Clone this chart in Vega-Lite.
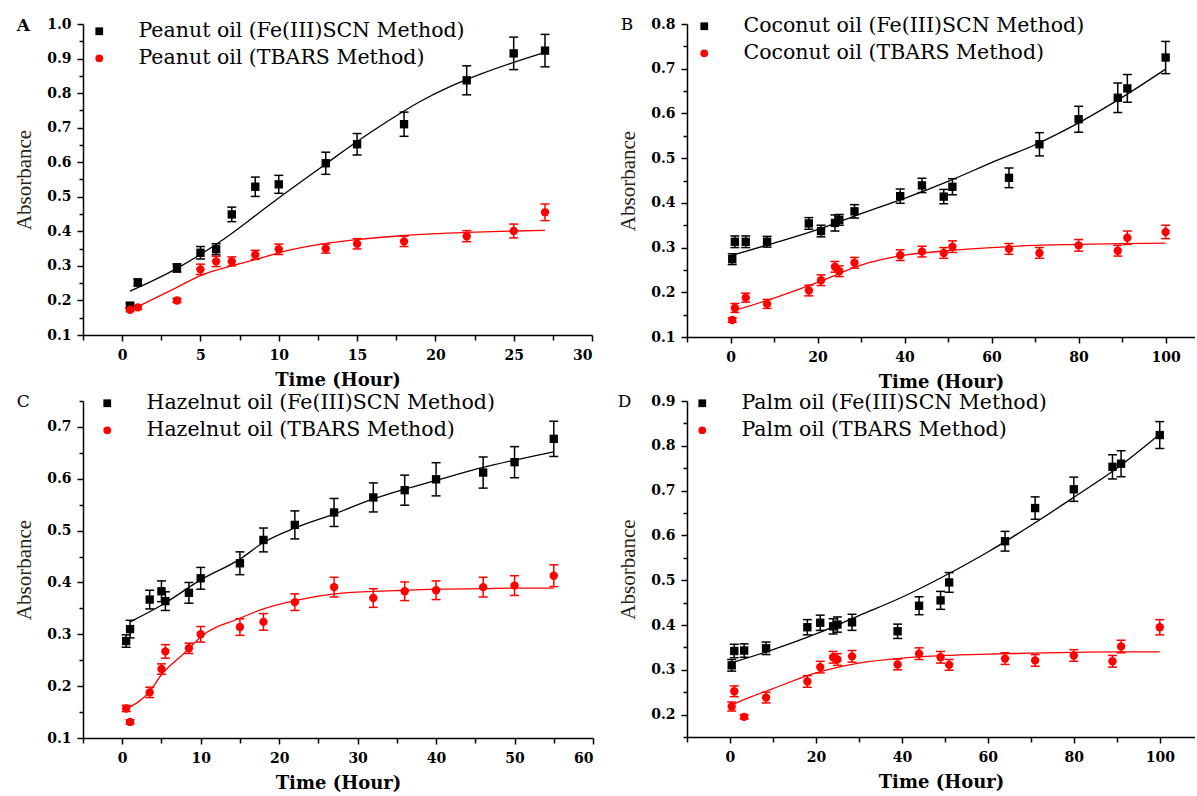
{
  "$schema": "https://vega.github.io/schema/vega-lite/v6.json",
  "padding": {"top": 16, "left": 13, "right": 0, "bottom": 0},
  "background": "white",
  "spacing": 2,
  "resolve": {"scale": {"color": "independent", "shape": "independent"}, "legend": {"color": "independent", "shape": "independent"}},
  "config": {
    "view": {"stroke": null},
    "font": "DejaVu Serif",
    "axis": {"grid": false, "domainColor": "black", "domainWidth": 1.5, "tickColor": "black", "tickWidth": 1.5,
      "labelFont": "DejaVu Serif", "labelFontWeight": "bold", "labelFontSize": 14, "labelColor": "black", "labelPadding": 6, "labelOverlap": false,
      "titleFont": "DejaVu Serif", "titleColor": "black"},
    "axisX": {"titleFontSize": 18, "titleFontWeight": "bold", "titlePadding": 9, "labelPadding": 7},
    "axisY": {"titleFont": "Liberation Serif", "titleFontSize": 21, "titleFontWeight": "normal", "titlePadding": 12, "titleColor": "#2a2418"},
    "legend": {"labelFont": "DejaVu Serif", "labelFontSize": 20.5, "labelColor": "black", "symbolSize": 60, "labelOffset": 29, "rowPadding": 6, "padding": 0, "orient": "none", "labelLimit": 600},
    "title": {"font": "DejaVu Serif", "fontSize": 17, "color": "black", "anchor": "start", "frame": "bounds", "offset": 0}
  },
  "datasets": {
    "A_pts": [
      {"x": 0.5, "y": 0.185, "e": 0.008, "s": "Peanut oil (Fe(III)SCN Method)"},
      {"x": 1, "y": 0.252, "e": 0.01, "s": "Peanut oil (Fe(III)SCN Method)"},
      {"x": 3.5, "y": 0.294, "e": 0.012, "s": "Peanut oil (Fe(III)SCN Method)"},
      {"x": 5, "y": 0.338, "e": 0.018, "s": "Peanut oil (Fe(III)SCN Method)"},
      {"x": 6, "y": 0.348, "e": 0.016, "s": "Peanut oil (Fe(III)SCN Method)"},
      {"x": 7, "y": 0.449, "e": 0.021, "s": "Peanut oil (Fe(III)SCN Method)"},
      {"x": 8.5, "y": 0.529, "e": 0.028, "s": "Peanut oil (Fe(III)SCN Method)"},
      {"x": 10, "y": 0.536, "e": 0.026, "s": "Peanut oil (Fe(III)SCN Method)"},
      {"x": 13, "y": 0.597, "e": 0.032, "s": "Peanut oil (Fe(III)SCN Method)"},
      {"x": 15, "y": 0.652, "e": 0.031, "s": "Peanut oil (Fe(III)SCN Method)"},
      {"x": 18, "y": 0.71, "e": 0.035, "s": "Peanut oil (Fe(III)SCN Method)"},
      {"x": 22, "y": 0.837, "e": 0.042, "s": "Peanut oil (Fe(III)SCN Method)"},
      {"x": 25, "y": 0.915, "e": 0.047, "s": "Peanut oil (Fe(III)SCN Method)"},
      {"x": 27, "y": 0.923, "e": 0.047, "s": "Peanut oil (Fe(III)SCN Method)"},
      {"x": 0.5, "y": 0.173, "e": 0.005, "s": "Peanut oil (TBARS Method)"},
      {"x": 1, "y": 0.18, "e": 0.006, "s": "Peanut oil (TBARS Method)"},
      {"x": 3.5, "y": 0.2, "e": 0.006, "s": "Peanut oil (TBARS Method)"},
      {"x": 5, "y": 0.29, "e": 0.015, "s": "Peanut oil (TBARS Method)"},
      {"x": 6, "y": 0.313, "e": 0.015, "s": "Peanut oil (TBARS Method)"},
      {"x": 7, "y": 0.313, "e": 0.013, "s": "Peanut oil (TBARS Method)"},
      {"x": 8.5, "y": 0.332, "e": 0.013, "s": "Peanut oil (TBARS Method)"},
      {"x": 10, "y": 0.348, "e": 0.015, "s": "Peanut oil (TBARS Method)"},
      {"x": 13, "y": 0.35, "e": 0.013, "s": "Peanut oil (TBARS Method)"},
      {"x": 15, "y": 0.364, "e": 0.015, "s": "Peanut oil (TBARS Method)"},
      {"x": 18, "y": 0.371, "e": 0.015, "s": "Peanut oil (TBARS Method)"},
      {"x": 22, "y": 0.386, "e": 0.016, "s": "Peanut oil (TBARS Method)"},
      {"x": 25, "y": 0.401, "e": 0.02, "s": "Peanut oil (TBARS Method)"},
      {"x": 27, "y": 0.455, "e": 0.024, "s": "Peanut oil (TBARS Method)"}
    ],
    "A_fit": [
      {"x": 0.5, "y": 0.227, "s": "Peanut oil (Fe(III)SCN Method)"},
      {"x": 2, "y": 0.258, "s": "Peanut oil (Fe(III)SCN Method)"},
      {"x": 3.5, "y": 0.293, "s": "Peanut oil (Fe(III)SCN Method)"},
      {"x": 5, "y": 0.333, "s": "Peanut oil (Fe(III)SCN Method)"},
      {"x": 6.5, "y": 0.378, "s": "Peanut oil (Fe(III)SCN Method)"},
      {"x": 8, "y": 0.428, "s": "Peanut oil (Fe(III)SCN Method)"},
      {"x": 9.5, "y": 0.48, "s": "Peanut oil (Fe(III)SCN Method)"},
      {"x": 11, "y": 0.53, "s": "Peanut oil (Fe(III)SCN Method)"},
      {"x": 13, "y": 0.595, "s": "Peanut oil (Fe(III)SCN Method)"},
      {"x": 15, "y": 0.66, "s": "Peanut oil (Fe(III)SCN Method)"},
      {"x": 17, "y": 0.72, "s": "Peanut oil (Fe(III)SCN Method)"},
      {"x": 19, "y": 0.775, "s": "Peanut oil (Fe(III)SCN Method)"},
      {"x": 21, "y": 0.82, "s": "Peanut oil (Fe(III)SCN Method)"},
      {"x": 23, "y": 0.857, "s": "Peanut oil (Fe(III)SCN Method)"},
      {"x": 25, "y": 0.889, "s": "Peanut oil (Fe(III)SCN Method)"},
      {"x": 27, "y": 0.918, "s": "Peanut oil (Fe(III)SCN Method)"},
      {"x": 1, "y": 0.182, "s": "Peanut oil (TBARS Method)"},
      {"x": 3.5, "y": 0.238, "s": "Peanut oil (TBARS Method)"},
      {"x": 5, "y": 0.272, "s": "Peanut oil (TBARS Method)"},
      {"x": 7, "y": 0.3, "s": "Peanut oil (TBARS Method)"},
      {"x": 8.5, "y": 0.318, "s": "Peanut oil (TBARS Method)"},
      {"x": 10, "y": 0.338, "s": "Peanut oil (TBARS Method)"},
      {"x": 13, "y": 0.365, "s": "Peanut oil (TBARS Method)"},
      {"x": 15, "y": 0.376, "s": "Peanut oil (TBARS Method)"},
      {"x": 18, "y": 0.388, "s": "Peanut oil (TBARS Method)"},
      {"x": 22, "y": 0.397, "s": "Peanut oil (TBARS Method)"},
      {"x": 25, "y": 0.401, "s": "Peanut oil (TBARS Method)"},
      {"x": 27, "y": 0.403, "s": "Peanut oil (TBARS Method)"}
    ],
    "B_pts": [
      {"x": 0.4, "y": 0.274, "e": 0.012, "s": "Coconut oil (Fe(III)SCN Method)"},
      {"x": 1, "y": 0.313, "e": 0.013, "s": "Coconut oil (Fe(III)SCN Method)"},
      {"x": 3.5, "y": 0.313, "e": 0.013, "s": "Coconut oil (Fe(III)SCN Method)"},
      {"x": 8.4, "y": 0.313, "e": 0.012, "s": "Coconut oil (Fe(III)SCN Method)"},
      {"x": 18, "y": 0.354, "e": 0.013, "s": "Coconut oil (Fe(III)SCN Method)"},
      {"x": 20.8, "y": 0.337, "e": 0.013, "s": "Coconut oil (Fe(III)SCN Method)"},
      {"x": 24, "y": 0.355, "e": 0.018, "s": "Coconut oil (Fe(III)SCN Method)"},
      {"x": 25, "y": 0.362, "e": 0.012, "s": "Coconut oil (Fe(III)SCN Method)"},
      {"x": 28.5, "y": 0.381, "e": 0.015, "s": "Coconut oil (Fe(III)SCN Method)"},
      {"x": 39, "y": 0.415, "e": 0.016, "s": "Coconut oil (Fe(III)SCN Method)"},
      {"x": 44, "y": 0.439, "e": 0.016, "s": "Coconut oil (Fe(III)SCN Method)"},
      {"x": 49, "y": 0.414, "e": 0.016, "s": "Coconut oil (Fe(III)SCN Method)"},
      {"x": 51, "y": 0.436, "e": 0.018, "s": "Coconut oil (Fe(III)SCN Method)"},
      {"x": 64, "y": 0.456, "e": 0.022, "s": "Coconut oil (Fe(III)SCN Method)"},
      {"x": 71, "y": 0.531, "e": 0.026, "s": "Coconut oil (Fe(III)SCN Method)"},
      {"x": 80, "y": 0.587, "e": 0.029, "s": "Coconut oil (Fe(III)SCN Method)"},
      {"x": 89, "y": 0.635, "e": 0.033, "s": "Coconut oil (Fe(III)SCN Method)"},
      {"x": 91.2, "y": 0.656, "e": 0.031, "s": "Coconut oil (Fe(III)SCN Method)"},
      {"x": 100, "y": 0.725, "e": 0.036, "s": "Coconut oil (Fe(III)SCN Method)"},
      {"x": 0.4, "y": 0.138, "e": 0.005, "s": "Coconut oil (TBARS Method)"},
      {"x": 1, "y": 0.165, "e": 0.01, "s": "Coconut oil (TBARS Method)"},
      {"x": 3.5, "y": 0.188, "e": 0.01, "s": "Coconut oil (TBARS Method)"},
      {"x": 8.4, "y": 0.174, "e": 0.01, "s": "Coconut oil (TBARS Method)"},
      {"x": 18, "y": 0.204, "e": 0.012, "s": "Coconut oil (TBARS Method)"},
      {"x": 20.8, "y": 0.227, "e": 0.012, "s": "Coconut oil (TBARS Method)"},
      {"x": 24, "y": 0.257, "e": 0.012, "s": "Coconut oil (TBARS Method)"},
      {"x": 25, "y": 0.247, "e": 0.012, "s": "Coconut oil (TBARS Method)"},
      {"x": 28.5, "y": 0.266, "e": 0.012, "s": "Coconut oil (TBARS Method)"},
      {"x": 39, "y": 0.283, "e": 0.012, "s": "Coconut oil (TBARS Method)"},
      {"x": 44, "y": 0.291, "e": 0.012, "s": "Coconut oil (TBARS Method)"},
      {"x": 49, "y": 0.288, "e": 0.012, "s": "Coconut oil (TBARS Method)"},
      {"x": 51, "y": 0.302, "e": 0.013, "s": "Coconut oil (TBARS Method)"},
      {"x": 64, "y": 0.297, "e": 0.012, "s": "Coconut oil (TBARS Method)"},
      {"x": 71, "y": 0.288, "e": 0.012, "s": "Coconut oil (TBARS Method)"},
      {"x": 80, "y": 0.305, "e": 0.013, "s": "Coconut oil (TBARS Method)"},
      {"x": 89, "y": 0.293, "e": 0.012, "s": "Coconut oil (TBARS Method)"},
      {"x": 91.2, "y": 0.322, "e": 0.015, "s": "Coconut oil (TBARS Method)"},
      {"x": 100, "y": 0.335, "e": 0.015, "s": "Coconut oil (TBARS Method)"}
    ],
    "B_fit": [
      {"x": 0.5, "y": 0.283, "s": "Coconut oil (Fe(III)SCN Method)"},
      {"x": 10, "y": 0.31, "s": "Coconut oil (Fe(III)SCN Method)"},
      {"x": 20, "y": 0.34, "s": "Coconut oil (Fe(III)SCN Method)"},
      {"x": 30, "y": 0.376, "s": "Coconut oil (Fe(III)SCN Method)"},
      {"x": 40, "y": 0.41, "s": "Coconut oil (Fe(III)SCN Method)"},
      {"x": 50, "y": 0.448, "s": "Coconut oil (Fe(III)SCN Method)"},
      {"x": 60, "y": 0.49, "s": "Coconut oil (Fe(III)SCN Method)"},
      {"x": 70, "y": 0.53, "s": "Coconut oil (Fe(III)SCN Method)"},
      {"x": 80, "y": 0.579, "s": "Coconut oil (Fe(III)SCN Method)"},
      {"x": 90, "y": 0.636, "s": "Coconut oil (Fe(III)SCN Method)"},
      {"x": 100, "y": 0.699, "s": "Coconut oil (Fe(III)SCN Method)"},
      {"x": 0.5, "y": 0.158, "s": "Coconut oil (TBARS Method)"},
      {"x": 10, "y": 0.187, "s": "Coconut oil (TBARS Method)"},
      {"x": 20, "y": 0.222, "s": "Coconut oil (TBARS Method)"},
      {"x": 30, "y": 0.261, "s": "Coconut oil (TBARS Method)"},
      {"x": 40, "y": 0.283, "s": "Coconut oil (TBARS Method)"},
      {"x": 50, "y": 0.293, "s": "Coconut oil (TBARS Method)"},
      {"x": 60, "y": 0.3, "s": "Coconut oil (TBARS Method)"},
      {"x": 70, "y": 0.305, "s": "Coconut oil (TBARS Method)"},
      {"x": 80, "y": 0.307, "s": "Coconut oil (TBARS Method)"},
      {"x": 90, "y": 0.309, "s": "Coconut oil (TBARS Method)"},
      {"x": 100, "y": 0.31, "s": "Coconut oil (TBARS Method)"}
    ],
    "C_pts": [
      {"x": 0.5, "y": 0.287, "e": 0.012, "s": "Hazelnut oil (Fe(III)SCN Method)"},
      {"x": 1, "y": 0.31, "e": 0.017, "s": "Hazelnut oil (Fe(III)SCN Method)"},
      {"x": 3.5, "y": 0.367, "e": 0.018, "s": "Hazelnut oil (Fe(III)SCN Method)"},
      {"x": 5, "y": 0.383, "e": 0.02, "s": "Hazelnut oil (Fe(III)SCN Method)"},
      {"x": 5.5, "y": 0.364, "e": 0.018, "s": "Hazelnut oil (Fe(III)SCN Method)"},
      {"x": 8.5, "y": 0.38, "e": 0.02, "s": "Hazelnut oil (Fe(III)SCN Method)"},
      {"x": 10, "y": 0.408, "e": 0.021, "s": "Hazelnut oil (Fe(III)SCN Method)"},
      {"x": 15, "y": 0.437, "e": 0.022, "s": "Hazelnut oil (Fe(III)SCN Method)"},
      {"x": 18, "y": 0.482, "e": 0.023, "s": "Hazelnut oil (Fe(III)SCN Method)"},
      {"x": 22, "y": 0.511, "e": 0.027, "s": "Hazelnut oil (Fe(III)SCN Method)"},
      {"x": 27, "y": 0.535, "e": 0.027, "s": "Hazelnut oil (Fe(III)SCN Method)"},
      {"x": 32, "y": 0.564, "e": 0.028, "s": "Hazelnut oil (Fe(III)SCN Method)"},
      {"x": 36, "y": 0.578, "e": 0.029, "s": "Hazelnut oil (Fe(III)SCN Method)"},
      {"x": 40, "y": 0.599, "e": 0.032, "s": "Hazelnut oil (Fe(III)SCN Method)"},
      {"x": 46, "y": 0.612, "e": 0.03, "s": "Hazelnut oil (Fe(III)SCN Method)"},
      {"x": 50, "y": 0.632, "e": 0.03, "s": "Hazelnut oil (Fe(III)SCN Method)"},
      {"x": 55, "y": 0.677, "e": 0.034, "s": "Hazelnut oil (Fe(III)SCN Method)"},
      {"x": 0.5, "y": 0.157, "e": 0.006, "s": "Hazelnut oil (TBARS Method)"},
      {"x": 1, "y": 0.131, "e": 0.004, "s": "Hazelnut oil (TBARS Method)"},
      {"x": 3.5, "y": 0.188, "e": 0.01, "s": "Hazelnut oil (TBARS Method)"},
      {"x": 5, "y": 0.233, "e": 0.01, "s": "Hazelnut oil (TBARS Method)"},
      {"x": 5.5, "y": 0.267, "e": 0.013, "s": "Hazelnut oil (TBARS Method)"},
      {"x": 8.5, "y": 0.273, "e": 0.01, "s": "Hazelnut oil (TBARS Method)"},
      {"x": 10, "y": 0.3, "e": 0.015, "s": "Hazelnut oil (TBARS Method)"},
      {"x": 15, "y": 0.314, "e": 0.016, "s": "Hazelnut oil (TBARS Method)"},
      {"x": 18, "y": 0.324, "e": 0.016, "s": "Hazelnut oil (TBARS Method)"},
      {"x": 22, "y": 0.362, "e": 0.016, "s": "Hazelnut oil (TBARS Method)"},
      {"x": 27, "y": 0.391, "e": 0.019, "s": "Hazelnut oil (TBARS Method)"},
      {"x": 32, "y": 0.37, "e": 0.018, "s": "Hazelnut oil (TBARS Method)"},
      {"x": 36, "y": 0.383, "e": 0.018, "s": "Hazelnut oil (TBARS Method)"},
      {"x": 40, "y": 0.385, "e": 0.018, "s": "Hazelnut oil (TBARS Method)"},
      {"x": 46, "y": 0.391, "e": 0.019, "s": "Hazelnut oil (TBARS Method)"},
      {"x": 50, "y": 0.394, "e": 0.019, "s": "Hazelnut oil (TBARS Method)"},
      {"x": 55, "y": 0.413, "e": 0.021, "s": "Hazelnut oil (TBARS Method)"}
    ],
    "C_fit": [
      {"x": 1, "y": 0.324, "s": "Hazelnut oil (Fe(III)SCN Method)"},
      {"x": 5, "y": 0.356, "s": "Hazelnut oil (Fe(III)SCN Method)"},
      {"x": 10, "y": 0.405, "s": "Hazelnut oil (Fe(III)SCN Method)"},
      {"x": 15, "y": 0.445, "s": "Hazelnut oil (Fe(III)SCN Method)"},
      {"x": 18, "y": 0.477, "s": "Hazelnut oil (Fe(III)SCN Method)"},
      {"x": 22, "y": 0.505, "s": "Hazelnut oil (Fe(III)SCN Method)"},
      {"x": 27, "y": 0.532, "s": "Hazelnut oil (Fe(III)SCN Method)"},
      {"x": 32, "y": 0.561, "s": "Hazelnut oil (Fe(III)SCN Method)"},
      {"x": 36, "y": 0.58, "s": "Hazelnut oil (Fe(III)SCN Method)"},
      {"x": 40, "y": 0.597, "s": "Hazelnut oil (Fe(III)SCN Method)"},
      {"x": 46, "y": 0.622, "s": "Hazelnut oil (Fe(III)SCN Method)"},
      {"x": 50, "y": 0.636, "s": "Hazelnut oil (Fe(III)SCN Method)"},
      {"x": 55, "y": 0.652, "s": "Hazelnut oil (Fe(III)SCN Method)"},
      {"x": 0.5, "y": 0.156, "s": "Hazelnut oil (TBARS Method)"},
      {"x": 3.5, "y": 0.19, "s": "Hazelnut oil (TBARS Method)"},
      {"x": 5, "y": 0.222, "s": "Hazelnut oil (TBARS Method)"},
      {"x": 8, "y": 0.265, "s": "Hazelnut oil (TBARS Method)"},
      {"x": 10, "y": 0.295, "s": "Hazelnut oil (TBARS Method)"},
      {"x": 15, "y": 0.331, "s": "Hazelnut oil (TBARS Method)"},
      {"x": 18, "y": 0.349, "s": "Hazelnut oil (TBARS Method)"},
      {"x": 22, "y": 0.365, "s": "Hazelnut oil (TBARS Method)"},
      {"x": 27, "y": 0.378, "s": "Hazelnut oil (TBARS Method)"},
      {"x": 32, "y": 0.383, "s": "Hazelnut oil (TBARS Method)"},
      {"x": 36, "y": 0.385, "s": "Hazelnut oil (TBARS Method)"},
      {"x": 40, "y": 0.387, "s": "Hazelnut oil (TBARS Method)"},
      {"x": 46, "y": 0.388, "s": "Hazelnut oil (TBARS Method)"},
      {"x": 50, "y": 0.389, "s": "Hazelnut oil (TBARS Method)"},
      {"x": 55, "y": 0.389, "s": "Hazelnut oil (TBARS Method)"}
    ],
    "D_pts": [
      {"x": 0.4, "y": 0.31, "e": 0.013, "s": "Palm oil (Fe(III)SCN Method)"},
      {"x": 1, "y": 0.342, "e": 0.015, "s": "Palm oil (Fe(III)SCN Method)"},
      {"x": 3.3, "y": 0.343, "e": 0.015, "s": "Palm oil (Fe(III)SCN Method)"},
      {"x": 8.4, "y": 0.348, "e": 0.014, "s": "Palm oil (Fe(III)SCN Method)"},
      {"x": 18, "y": 0.395, "e": 0.017, "s": "Palm oil (Fe(III)SCN Method)"},
      {"x": 21, "y": 0.405, "e": 0.017, "s": "Palm oil (Fe(III)SCN Method)"},
      {"x": 24, "y": 0.397, "e": 0.017, "s": "Palm oil (Fe(III)SCN Method)"},
      {"x": 25, "y": 0.401, "e": 0.017, "s": "Palm oil (Fe(III)SCN Method)"},
      {"x": 28.4, "y": 0.406, "e": 0.018, "s": "Palm oil (Fe(III)SCN Method)"},
      {"x": 39, "y": 0.386, "e": 0.016, "s": "Palm oil (Fe(III)SCN Method)"},
      {"x": 44, "y": 0.443, "e": 0.02, "s": "Palm oil (Fe(III)SCN Method)"},
      {"x": 49, "y": 0.455, "e": 0.02, "s": "Palm oil (Fe(III)SCN Method)"},
      {"x": 51, "y": 0.495, "e": 0.022, "s": "Palm oil (Fe(III)SCN Method)"},
      {"x": 64, "y": 0.587, "e": 0.022, "s": "Palm oil (Fe(III)SCN Method)"},
      {"x": 71, "y": 0.661, "e": 0.025, "s": "Palm oil (Fe(III)SCN Method)"},
      {"x": 80, "y": 0.703, "e": 0.027, "s": "Palm oil (Fe(III)SCN Method)"},
      {"x": 89, "y": 0.753, "e": 0.027, "s": "Palm oil (Fe(III)SCN Method)"},
      {"x": 91, "y": 0.76, "e": 0.029, "s": "Palm oil (Fe(III)SCN Method)"},
      {"x": 100, "y": 0.824, "e": 0.03, "s": "Palm oil (Fe(III)SCN Method)"},
      {"x": 0.4, "y": 0.218, "e": 0.01, "s": "Palm oil (TBARS Method)"},
      {"x": 1, "y": 0.252, "e": 0.012, "s": "Palm oil (TBARS Method)"},
      {"x": 3.3, "y": 0.195, "e": 0.005, "s": "Palm oil (TBARS Method)"},
      {"x": 8.4, "y": 0.238, "e": 0.012, "s": "Palm oil (TBARS Method)"},
      {"x": 18, "y": 0.274, "e": 0.013, "s": "Palm oil (TBARS Method)"},
      {"x": 21, "y": 0.306, "e": 0.013, "s": "Palm oil (TBARS Method)"},
      {"x": 24, "y": 0.328, "e": 0.013, "s": "Palm oil (TBARS Method)"},
      {"x": 25, "y": 0.323, "e": 0.013, "s": "Palm oil (TBARS Method)"},
      {"x": 28.4, "y": 0.33, "e": 0.013, "s": "Palm oil (TBARS Method)"},
      {"x": 39, "y": 0.312, "e": 0.012, "s": "Palm oil (TBARS Method)"},
      {"x": 44, "y": 0.336, "e": 0.013, "s": "Palm oil (TBARS Method)"},
      {"x": 49, "y": 0.328, "e": 0.013, "s": "Palm oil (TBARS Method)"},
      {"x": 51, "y": 0.311, "e": 0.012, "s": "Palm oil (TBARS Method)"},
      {"x": 64, "y": 0.325, "e": 0.013, "s": "Palm oil (TBARS Method)"},
      {"x": 71, "y": 0.321, "e": 0.013, "s": "Palm oil (TBARS Method)"},
      {"x": 80, "y": 0.332, "e": 0.013, "s": "Palm oil (TBARS Method)"},
      {"x": 89, "y": 0.319, "e": 0.013, "s": "Palm oil (TBARS Method)"},
      {"x": 91, "y": 0.352, "e": 0.014, "s": "Palm oil (TBARS Method)"},
      {"x": 100, "y": 0.395, "e": 0.017, "s": "Palm oil (TBARS Method)"}
    ],
    "D_fit": [
      {"x": 0.5, "y": 0.316, "s": "Palm oil (Fe(III)SCN Method)"},
      {"x": 10, "y": 0.345, "s": "Palm oil (Fe(III)SCN Method)"},
      {"x": 20, "y": 0.38, "s": "Palm oil (Fe(III)SCN Method)"},
      {"x": 30, "y": 0.421, "s": "Palm oil (Fe(III)SCN Method)"},
      {"x": 40, "y": 0.462, "s": "Palm oil (Fe(III)SCN Method)"},
      {"x": 50, "y": 0.51, "s": "Palm oil (Fe(III)SCN Method)"},
      {"x": 60, "y": 0.563, "s": "Palm oil (Fe(III)SCN Method)"},
      {"x": 70, "y": 0.622, "s": "Palm oil (Fe(III)SCN Method)"},
      {"x": 80, "y": 0.685, "s": "Palm oil (Fe(III)SCN Method)"},
      {"x": 90, "y": 0.75, "s": "Palm oil (Fe(III)SCN Method)"},
      {"x": 100, "y": 0.826, "s": "Palm oil (Fe(III)SCN Method)"},
      {"x": 0.5, "y": 0.222, "s": "Palm oil (TBARS Method)"},
      {"x": 5, "y": 0.24, "s": "Palm oil (TBARS Method)"},
      {"x": 10, "y": 0.258, "s": "Palm oil (TBARS Method)"},
      {"x": 20, "y": 0.293, "s": "Palm oil (TBARS Method)"},
      {"x": 30, "y": 0.315, "s": "Palm oil (TBARS Method)"},
      {"x": 40, "y": 0.326, "s": "Palm oil (TBARS Method)"},
      {"x": 50, "y": 0.332, "s": "Palm oil (TBARS Method)"},
      {"x": 60, "y": 0.335, "s": "Palm oil (TBARS Method)"},
      {"x": 70, "y": 0.337, "s": "Palm oil (TBARS Method)"},
      {"x": 80, "y": 0.339, "s": "Palm oil (TBARS Method)"},
      {"x": 90, "y": 0.34, "s": "Palm oil (TBARS Method)"},
      {"x": 100, "y": 0.34, "s": "Palm oil (TBARS Method)"}
    ]
  },
  "vconcat": [
    {
      "spacing": 24,
      "resolve": {"scale": {"color": "independent", "shape": "independent"}, "legend": {"color": "independent", "shape": "independent"}},
      "hconcat": [
        {
          "width": 509, "height": 311,
          "title": {"text": "A", "fontWeight": "bold", "dy": 22, "dx": 3},
          "encoding": {
            "x": {"field": "x", "type": "quantitative", "scale": {"domain": [-2.5, 30], "nice": false, "zero": false},
              "axis": {"title": "Time (Hour)", "values": [-2.5, 0, 2.5, 5, 7.5, 10, 12.5, 15, 17.5, 20, 22.5, 25, 27.5, 30],
                "labelExpr": "datum.value % 5 == 0 ? datum.label : ''",
                "tickSize": {"condition": {"test": "datum.value % 5 == 0", "value": 6}, "value": 5}}},
            "y": {"field": "y", "type": "quantitative", "scale": {"domain": [0.1, 1.0], "nice": false, "zero": false},
              "axis": {"title": "Absorbance", "values": [0.1, 0.15, 0.2, 0.25, 0.3, 0.35, 0.4, 0.45, 0.5, 0.55, 0.6, 0.65, 0.7, 0.75, 0.8, 0.85, 0.9, 0.95, 1.0],
                "labelExpr": "abs(round(datum.value*10) - datum.value*10) < 0.001 ? format(datum.value, '.1f') : ''",
                "tickSize": {"condition": {"test": "abs(round(datum.value*10) - datum.value*10) < 0.001", "value": 6}, "value": 4}}}
          },
          "layer": [
            {"data": {"name": "A_fit"}, "mark": {"type": "line", "interpolate": "monotone", "strokeWidth": 1.3},
              "encoding": {"detail": {"field": "s"}, "color": {"condition": {"test": "indexof(datum.s, 'TBARS') >= 0", "value": "#ff0000"}, "value": "#000000"}}},
            {"data": {"name": "A_pts"}, "mark": {"type": "errorbar", "ticks": true, "size": 9, "thickness": 1.5, "opacity": 1},
              "encoding": {"yError": {"field": "e"}, "detail": {"field": "s"}, "color": {"condition": {"test": "indexof(datum.s, 'TBARS') >= 0", "value": "#ff0000"}, "value": "#000000"}}},
            {"data": {"name": "A_pts"}, "mark": {"type": "point", "filled": true, "opacity": 1, "size": 70},
              "encoding": {"color": {"field": "s", "type": "nominal", "scale": {"domain": ["Peanut oil (Fe(III)SCN Method)", "Peanut oil (TBARS Method)"], "range": ["#000000", "#ff0000"]}, "legend": {"title": null, "legendX": 6, "legendY": -3}},
                "shape": {"field": "s", "type": "nominal", "scale": {"domain": ["Peanut oil (Fe(III)SCN Method)", "Peanut oil (TBARS Method)"], "range": ["square", "circle"]}, "legend": {"title": null, "legendX": 6, "legendY": -3}}}}
          ]
        },
        {
          "width": 508, "height": 313,
          "title": {"text": "B", "fontWeight": "normal", "dy": 22, "dx": 3},
          "encoding": {
            "x": {"field": "x", "type": "quantitative", "scale": {"domain": [-10, 106.75], "nice": false, "zero": false},
              "axis": {"title": "Time (Hour)", "values": [-10, 0, 10, 20, 30, 40, 50, 60, 70, 80, 90, 100],
                "labelExpr": "datum.value % 20 == 0 ? datum.label : ''",
                "tickSize": {"condition": {"test": "datum.value % 20 == 0", "value": 6}, "value": 5}}},
            "y": {"field": "y", "type": "quantitative", "scale": {"domain": [0.1, 0.8], "nice": false, "zero": false},
              "axis": {"title": "Absorbance", "values": [0.1, 0.15, 0.2, 0.25, 0.3, 0.35, 0.4, 0.45, 0.5, 0.55, 0.6, 0.65, 0.7, 0.75, 0.8],
                "labelExpr": "abs(round(datum.value*10) - datum.value*10) < 0.001 ? format(datum.value, '.1f') : ''",
                "tickSize": {"condition": {"test": "abs(round(datum.value*10) - datum.value*10) < 0.001", "value": 6}, "value": 4}}}
          },
          "layer": [
            {"data": {"name": "B_fit"}, "mark": {"type": "line", "interpolate": "monotone", "strokeWidth": 1.3},
              "encoding": {"detail": {"field": "s"}, "color": {"condition": {"test": "indexof(datum.s, 'TBARS') >= 0", "value": "#ff0000"}, "value": "#000000"}}},
            {"data": {"name": "B_pts"}, "mark": {"type": "errorbar", "ticks": true, "size": 9, "thickness": 1.5, "opacity": 1},
              "encoding": {"yError": {"field": "e"}, "detail": {"field": "s"}, "color": {"condition": {"test": "indexof(datum.s, 'TBARS') >= 0", "value": "#ff0000"}, "value": "#000000"}}},
            {"data": {"name": "B_pts"}, "mark": {"type": "point", "filled": true, "opacity": 1, "size": 70},
              "encoding": {"color": {"field": "s", "type": "nominal", "scale": {"domain": ["Coconut oil (Fe(III)SCN Method)", "Coconut oil (TBARS Method)"], "range": ["#000000", "#ff0000"]}, "legend": {"title": null, "legendX": 7, "legendY": -8}},
                "shape": {"field": "s", "type": "nominal", "scale": {"domain": ["Coconut oil (Fe(III)SCN Method)", "Coconut oil (TBARS Method)"], "range": ["square", "circle"]}, "legend": {"title": null, "legendX": 7, "legendY": -8}}}}
          ]
        }
      ]
    },
    {
      "spacing": 23,
      "resolve": {"scale": {"color": "independent", "shape": "independent"}, "legend": {"color": "independent", "shape": "independent"}},
      "hconcat": [
        {
          "width": 510, "height": 337,
          "title": {"text": "C", "fontWeight": "normal", "dy": 22, "dx": 3},
          "encoding": {
            "x": {"field": "x", "type": "quantitative", "scale": {"domain": [-5, 60], "nice": false, "zero": false},
              "axis": {"title": "Time (Hour)", "values": [-5, 0, 5, 10, 15, 20, 25, 30, 35, 40, 45, 50, 55, 60],
                "labelExpr": "datum.value % 10 == 0 ? datum.label : ''",
                "tickSize": {"condition": {"test": "datum.value % 10 == 0", "value": 6}, "value": 5}}},
            "y": {"field": "y", "type": "quantitative", "scale": {"domain": [0.1, 0.75], "nice": false, "zero": false},
              "axis": {"title": "Absorbance", "values": [0.1, 0.15, 0.2, 0.25, 0.3, 0.35, 0.4, 0.45, 0.5, 0.55, 0.6, 0.65, 0.7, 0.75],
                "labelExpr": "abs(round(datum.value*10) - datum.value*10) < 0.001 ? format(datum.value, '.1f') : ''",
                "tickSize": {"condition": {"test": "abs(round(datum.value*10) - datum.value*10) < 0.001", "value": 6}, "value": 4}}}
          },
          "layer": [
            {"data": {"name": "C_fit"}, "mark": {"type": "line", "interpolate": "monotone", "strokeWidth": 1.3},
              "encoding": {"detail": {"field": "s"}, "color": {"condition": {"test": "indexof(datum.s, 'TBARS') >= 0", "value": "#ff0000"}, "value": "#000000"}}},
            {"data": {"name": "C_pts"}, "mark": {"type": "errorbar", "ticks": true, "size": 9, "thickness": 1.5, "opacity": 1},
              "encoding": {"yError": {"field": "e"}, "detail": {"field": "s"}, "color": {"condition": {"test": "indexof(datum.s, 'TBARS') >= 0", "value": "#ff0000"}, "value": "#000000"}}},
            {"data": {"name": "C_pts"}, "mark": {"type": "point", "filled": true, "opacity": 1, "size": 70},
              "encoding": {"color": {"field": "s", "type": "nominal", "scale": {"domain": ["Hazelnut oil (Fe(III)SCN Method)", "Hazelnut oil (TBARS Method)"], "range": ["#000000", "#ff0000"]}, "legend": {"title": null, "legendX": 14, "legendY": -8}},
                "shape": {"field": "s", "type": "nominal", "scale": {"domain": ["Hazelnut oil (Fe(III)SCN Method)", "Hazelnut oil (TBARS Method)"], "range": ["square", "circle"]}, "legend": {"title": null, "legendX": 14, "legendY": -8}}}}
          ]
        },
        {
          "width": 508, "height": 336,
          "title": {"text": "D", "fontWeight": "normal", "dy": 22, "dx": 0},
          "encoding": {
            "x": {"field": "x", "type": "quantitative", "scale": {"domain": [-10, 108.2], "nice": false, "zero": false},
              "axis": {"title": "Time (Hour)", "values": [-10, 0, 10, 20, 30, 40, 50, 60, 70, 80, 90, 100],
                "labelExpr": "datum.value % 20 == 0 ? datum.label : ''",
                "tickSize": {"condition": {"test": "datum.value % 20 == 0", "value": 6}, "value": 5}}},
            "y": {"field": "y", "type": "quantitative", "scale": {"domain": [0.15, 0.9], "nice": false, "zero": false},
              "axis": {"title": "Absorbance", "values": [0.15, 0.2, 0.25, 0.3, 0.35, 0.4, 0.45, 0.5, 0.55, 0.6, 0.65, 0.7, 0.75, 0.8, 0.85, 0.9],
                "labelExpr": "abs(round(datum.value*10) - datum.value*10) < 0.001 ? format(datum.value, '.1f') : ''",
                "tickSize": {"condition": {"test": "abs(round(datum.value*10) - datum.value*10) < 0.001", "value": 6}, "value": 4}}}
          },
          "layer": [
            {"data": {"name": "D_fit"}, "mark": {"type": "line", "interpolate": "monotone", "strokeWidth": 1.3},
              "encoding": {"detail": {"field": "s"}, "color": {"condition": {"test": "indexof(datum.s, 'TBARS') >= 0", "value": "#ff0000"}, "value": "#000000"}}},
            {"data": {"name": "D_pts"}, "mark": {"type": "errorbar", "ticks": true, "size": 9, "thickness": 1.5, "opacity": 1},
              "encoding": {"yError": {"field": "e"}, "detail": {"field": "s"}, "color": {"condition": {"test": "indexof(datum.s, 'TBARS') >= 0", "value": "#ff0000"}, "value": "#000000"}}},
            {"data": {"name": "D_pts"}, "mark": {"type": "point", "filled": true, "opacity": 1, "size": 70},
              "encoding": {"color": {"field": "s", "type": "nominal", "scale": {"domain": ["Palm oil (Fe(III)SCN Method)", "Palm oil (TBARS Method)"], "range": ["#000000", "#ff0000"]}, "legend": {"title": null, "legendX": 5, "legendY": -8}},
                "shape": {"field": "s", "type": "nominal", "scale": {"domain": ["Palm oil (Fe(III)SCN Method)", "Palm oil (TBARS Method)"], "range": ["square", "circle"]}, "legend": {"title": null, "legendX": 5, "legendY": -8}}}}
          ]
        }
      ]
    }
  ]
}
